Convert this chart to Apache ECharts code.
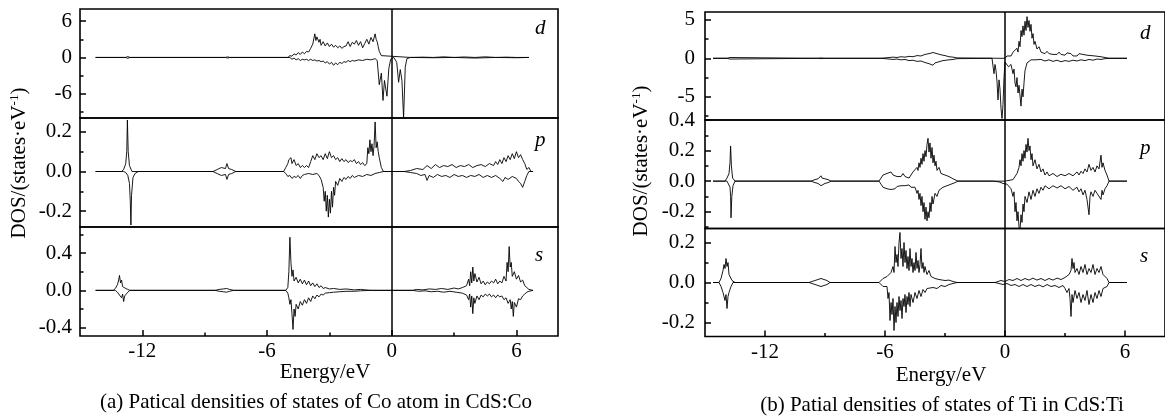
<!DOCTYPE html>
<html><head><meta charset="utf-8">
<script src="https://cdn.jsdelivr.net/npm/echarts@6/dist/echarts.min.js"></script>
<style>html,body{margin:0;padding:0;background:#fff}#c{width:1165px;height:416px}</style>
</head><body><div id="c"></div><script>
// ---------- axis data ----------
const energyRange = [-15, 8];
const energyMajorTicks = [-12, -6, 0, 6];
const energyMinorTicks = [-9, -3, 3];

// ---------- (a) Co in CdS:Co  (flat lists: energy, DOS, energy, DOS, ...) ----------
const coD_up = [-14.25,0, -12.8,0, -12.7,0.15, -12.6,0, -8.0,0, -7.9,0.1, -7.8,0, -5.0,0, -4.9,0.3, -4.8,0.2, -4.7,0.6, -4.6,0.4, -4.5,0.8, -4.4,0.5, -4.3,0.9, -4.2,0.6, -4.1,1.0, -4.0,0.9, -3.9,1.5, -3.8,2.2, -3.7,3.9, -3.65,2.8, -3.6,3.4, -3.5,2.5, -3.45,3.0, -3.4,2.0, -3.3,2.6, -3.2,1.9, -3.1,2.4, -3.0,1.8, -2.9,2.2, -2.8,1.7, -2.7,2.0, -2.6,1.6, -2.5,1.9, -2.4,1.5, -2.3,1.8, -2.2,1.9, -2.1,2.6, -2.0,1.8, -1.9,2.5, -1.8,2.2, -1.7,2.8, -1.6,2.0, -1.5,2.6, -1.4,1.6, -1.3,2.3, -1.2,3.0, -1.1,2.2, -1.0,3.3, -0.9,2.6, -0.8,3.9, -0.75,3.0, -0.7,2.6, -0.65,1.8, -0.6,1.0, -0.5,0.3, -0.45,0, 0.9,0, 1.5,0.05, 2.0,0, 2.5,0.1, 3.0,0, 3.5,0.08, 4.0,0, 4.5,0.1, 5.0,0, 5.5,0.05, 6.0,0, 6.6,0];
const coD_dn = [-14.25,0, -12.8,0, -12.7,-0.15, -12.6,0, -8.0,0, -7.9,-0.1, -7.8,0, -4.9,0, -4.8,-0.3, -4.7,-0.1, -4.6,-0.4, -4.5,-0.2, -4.4,-0.5, -4.3,-0.3, -4.2,-0.4, -4.1,-0.3, -4.0,-0.5, -3.9,-0.3, -3.8,-0.5, -3.7,-0.4, -3.6,-0.6, -3.5,-0.5, -3.4,-0.7, -3.3,-0.6, -3.2,-0.9, -3.1,-0.7, -3.0,-1.1, -2.9,-0.8, -2.8,-1.3, -2.7,-0.9, -2.6,-1.2, -2.5,-0.8, -2.4,-1.0, -2.3,-0.7, -2.2,-0.8, -2.1,-0.5, -2.0,-0.7, -1.9,-0.5, -1.8,-0.6, -1.6,-0.4, -1.4,-0.5, -1.2,-0.3, -1.0,-0.4, -0.8,-0.2, -0.7,-0.5, -0.6,-4.5, -0.5,-2.6, -0.42,-7.1, -0.35,-3.8, -0.23,-6.4, -0.14,-1.8, -0.05,-0.3, 0.1,0, 0.18,-0.3, 0.24,-0.8, 0.33,-4.1, 0.41,-2.0, 0.49,-3.8, 0.57,-10, 0.65,-1.6, 0.73,-0.2, 0.9,0, 2.0,-0.05, 3.0,0, 4.0,-0.1, 5.0,0, 6.0,-0.05, 6.6,0];
const coP_up = [-14.25,0, -13.0,0, -12.9,0.01, -12.8,0.04, -12.75,0.1, -12.72,0.26, -12.68,0.1, -12.62,0.03, -12.5,0, -8.6,0, -8.4,0.01, -8.2,0.02, -8.0,0.015, -7.93,0.04, -7.85,0.015, -7.7,0.01, -7.5,0, -5.2,0, -5.1,0.02, -5.0,0.04, -4.95,0.06, -4.9,0.05, -4.85,0.07, -4.8,0.04, -4.7,0.06, -4.6,0.03, -4.5,0.04, -4.4,0.02, -4.3,0.03, -4.2,0.02, -4.1,0.03, -4.0,0.02, -3.9,0.05, -3.8,0.08, -3.7,0.06, -3.6,0.09, -3.5,0.07, -3.4,0.08, -3.3,0.06, -3.2,0.09, -3.1,0.065, -3.0,0.1, -2.9,0.07, -2.8,0.08, -2.7,0.06, -2.6,0.07, -2.5,0.05, -2.4,0.065, -2.3,0.05, -2.2,0.06, -2.1,0.045, -2.0,0.055, -1.9,0.05, -1.8,0.06, -1.7,0.04, -1.6,0.05, -1.5,0.035, -1.4,0.045, -1.3,0.03, -1.2,0.04, -1.15,0.12, -1.1,0.09, -1.05,0.16, -1.0,0.1, -0.95,0.14, -0.9,0.08, -0.85,0.13, -0.8,0.25, -0.75,0.12, -0.7,0.15, -0.65,0.1, -0.6,0.07, -0.5,0.02, -0.4,0, 0.6,0, 0.9,0.005, 1.2,0.015, 1.5,0.01, 1.7,0.03, 1.9,0.015, 2.1,0.035, 2.3,0.02, 2.5,0.03, 2.7,0.025, 2.9,0.035, 3.1,0.02, 3.3,0.03, 3.5,0.025, 3.7,0.035, 3.9,0.02, 4.1,0.03, 4.3,0.035, 4.5,0.025, 4.7,0.04, 4.9,0.03, 5.0,0.05, 5.1,0.035, 5.2,0.06, 5.3,0.04, 5.4,0.07, 5.5,0.05, 5.6,0.08, 5.7,0.06, 5.8,0.09, 5.9,0.065, 6.0,0.1, 6.1,0.07, 6.2,0.085, 6.3,0.06, 6.4,0.04, 6.5,0.01, 6.6,0.02, 6.7,0, 6.8,0];
const coP_dn = [-14.25,0, -12.9,0, -12.8,-0.005, -12.7,-0.02, -12.62,-0.06, -12.58,-0.15, -12.55,-0.27, -12.52,-0.12, -12.45,-0.03, -12.35,-0.01, -12.2,0, -8.6,0, -8.4,-0.01, -8.2,-0.02, -8.0,-0.015, -7.93,-0.04, -7.85,-0.015, -7.7,-0.01, -7.5,0, -5.2,0, -5.1,-0.01, -5.0,-0.025, -4.9,-0.02, -4.8,-0.035, -4.7,-0.025, -4.6,-0.03, -4.5,-0.02, -4.4,-0.035, -4.3,-0.02, -4.2,-0.015, -4.0,-0.01, -3.8,-0.015, -3.6,-0.01, -3.5,-0.02, -3.4,-0.04, -3.3,-0.08, -3.25,-0.15, -3.2,-0.1, -3.15,-0.2, -3.1,-0.12, -3.05,-0.23, -3.0,-0.14, -2.95,-0.21, -2.9,-0.1, -2.85,-0.18, -2.8,-0.08, -2.75,-0.12, -2.7,-0.05, -2.6,-0.07, -2.5,-0.035, -2.4,-0.05, -2.3,-0.03, -2.2,-0.04, -2.1,-0.025, -2.0,-0.035, -1.9,-0.02, -1.8,-0.03, -1.6,-0.02, -1.4,-0.025, -1.2,-0.015, -1.0,-0.02, -0.8,-0.01, -0.6,-0.005, -0.4,0, 0.6,0, 0.9,-0.005, 1.2,-0.01, 1.4,-0.02, 1.6,-0.015, 1.7,-0.045, 1.8,-0.02, 2.0,-0.03, 2.2,-0.015, 2.4,-0.025, 2.6,-0.02, 2.8,-0.03, 3.0,-0.015, 3.2,-0.025, 3.4,-0.02, 3.6,-0.03, 3.8,-0.02, 4.0,-0.025, 4.2,-0.015, 4.4,-0.03, 4.6,-0.02, 4.8,-0.03, 5.0,-0.02, 5.2,-0.035, 5.35,-0.05, 5.45,-0.03, 5.6,-0.04, 5.8,-0.025, 6.0,-0.035, 6.1,-0.05, 6.2,-0.06, 6.3,-0.08, 6.4,-0.05, 6.5,-0.02, 6.6,0, 6.8,0];
const coS_up = [-14.25,0, -13.4,0, -13.3,0.02, -13.2,0.06, -13.15,0.1, -13.1,0.16, -13.05,0.08, -13.0,0.11, -12.95,0.04, -12.9,0.06, -12.8,0.02, -12.7,0.01, -12.6,0, -8.5,0, -8.3,0.01, -8.1,0.015, -7.95,0.02, -7.8,0.01, -7.6,0, -5.1,0, -5.0,0.03, -4.95,0.2, -4.9,0.57, -4.85,0.3, -4.8,0.15, -4.75,0.22, -4.7,0.1, -4.6,0.14, -4.5,0.08, -4.4,0.12, -4.3,0.07, -4.2,0.11, -4.1,0.06, -4.0,0.1, -3.9,0.05, -3.8,0.08, -3.7,0.04, -3.6,0.07, -3.5,0.03, -3.4,0.05, -3.3,0.02, -3.2,0.03, -3.0,0.015, -2.8,0.02, -2.5,0.01, -2.2,0.015, -1.8,0.005, -1.5,0.01, -1.0,0, 1.0,0, 1.2,0.01, 1.5,0.005, 1.8,0.015, 2.1,0.01, 2.4,0.02, 2.7,0.01, 3.0,0.025, 3.2,0.015, 3.4,0.03, 3.6,0.05, 3.7,0.12, 3.75,0.05, 3.8,0.2, 3.85,0.08, 3.9,0.25, 3.95,0.1, 4.0,0.18, 4.1,0.09, 4.2,0.14, 4.3,0.07, 4.4,0.1, 4.5,0.06, 4.6,0.09, 4.7,0.07, 4.8,0.1, 4.9,0.08, 5.0,0.12, 5.1,0.07, 5.2,0.1, 5.3,0.08, 5.4,0.15, 5.5,0.1, 5.55,0.3, 5.6,0.2, 5.65,0.47, 5.7,0.25, 5.75,0.3, 5.8,0.15, 5.9,0.2, 6.0,0.12, 6.1,0.16, 6.2,0.09, 6.3,0.11, 6.4,0.05, 6.5,0.03, 6.6,0.01, 6.8,0];
const coS_dn = [-14.25,0, -13.3,0, -13.2,-0.02, -13.1,-0.05, -13.0,-0.08, -12.95,-0.04, -12.9,-0.12, -12.85,-0.06, -12.8,-0.08, -12.7,-0.02, -12.6,0, -8.5,0, -8.3,-0.01, -8.1,-0.015, -7.95,-0.02, -7.8,-0.01, -7.6,0, -5.1,0, -5.0,-0.03, -4.95,-0.08, -4.9,-0.15, -4.85,-0.1, -4.8,-0.25, -4.75,-0.42, -4.7,-0.2, -4.65,-0.28, -4.6,-0.15, -4.5,-0.2, -4.4,-0.12, -4.3,-0.16, -4.2,-0.1, -4.1,-0.14, -4.0,-0.08, -3.9,-0.12, -3.8,-0.06, -3.7,-0.09, -3.6,-0.05, -3.5,-0.07, -3.4,-0.04, -3.3,-0.05, -3.2,-0.03, -3.0,-0.025, -2.8,-0.02, -2.5,-0.015, -2.2,-0.01, -1.8,-0.01, -1.5,-0.005, -1.0,0, 1.0,0, 1.3,-0.01, 1.6,-0.005, 1.9,-0.015, 2.2,-0.01, 2.5,-0.02, 2.8,-0.01, 3.1,-0.02, 3.4,-0.03, 3.6,-0.05, 3.7,-0.1, 3.75,-0.04, 3.8,-0.18, 3.85,-0.06, 3.9,-0.25, 3.95,-0.08, 4.0,-0.14, 4.1,-0.06, 4.2,-0.1, 4.3,-0.05, 4.4,-0.07, 4.5,-0.04, 4.6,-0.06, 4.7,-0.04, 4.8,-0.07, 4.9,-0.05, 5.0,-0.08, 5.1,-0.05, 5.2,-0.07, 5.3,-0.06, 5.4,-0.1, 5.5,-0.08, 5.6,-0.14, 5.7,-0.1, 5.75,-0.2, 5.8,-0.12, 5.85,-0.28, 5.9,-0.13, 6.0,-0.18, 6.1,-0.09, 6.2,-0.1, 6.3,-0.06, 6.4,-0.04, 6.5,-0.02, 6.6,-0.01, 6.8,0];

// ---------- (b) Ti in CdS:Ti ----------
const tiD_up = [-14.6,0, -13.9,0, -13.85,0.15, -13.8,0.25, -13.75,0.1, -13.7,0, -9.4,0, -9.2,0.05, -9.0,0, -6.2,0, -6.0,0.05, -5.8,0.1, -5.6,0.15, -5.4,0.1, -5.2,0.2, -5.0,0.15, -4.8,0.25, -4.6,0.2, -4.4,0.35, -4.2,0.3, -4.0,0.5, -3.9,0.4, -3.8,0.6, -3.7,0.5, -3.6,0.75, -3.5,0.5, -3.4,0.6, -3.3,0.4, -3.2,0.45, -3.1,0.3, -3.0,0.35, -2.8,0.2, -2.6,0.15, -2.4,0.05, -2.3,0, -0.3,0, -0.2,0.1, 0,0, 0.1,0.3, 0.2,0.5, 0.3,0.3, 0.4,0.8, 0.5,0.6, 0.6,1.3, 0.65,0.8, 0.7,2.2, 0.75,1.5, 0.8,3.6, 0.85,2.8, 0.9,4.2, 0.95,3.0, 1.0,4.8, 1.05,3.6, 1.1,5.4, 1.15,4.0, 1.2,4.9, 1.25,3.5, 1.3,4.4, 1.35,2.6, 1.4,3.2, 1.45,1.8, 1.5,2.2, 1.6,1.2, 1.7,1.5, 1.8,0.8, 1.9,1.0, 2.0,0.6, 2.1,0.9, 2.2,0.6, 2.3,0.8, 2.4,0.5, 2.5,0.7, 2.6,0.5, 2.7,0.8, 2.8,0.5, 2.9,0.6, 3.0,0.4, 3.1,0.7, 3.2,0.5, 3.3,0.6, 3.4,0.3, 3.5,0.5, 3.6,0.3, 3.7,0.6, 3.8,0.4, 3.9,0.5, 4.0,0.3, 4.1,0.4, 4.2,0.25, 4.3,0.35, 4.4,0.2, 4.5,0.3, 4.6,0.15, 4.8,0.2, 5.0,0.1, 5.2,0, 6.1,0];
const tiD_dn = [-14.6,0, -13.9,0, -13.85,-0.15, -13.8,-0.2, -13.75,-0.1, -13.7,0, -9.4,0, -9.2,-0.05, -9.0,0, -6.2,0, -6.0,-0.05, -5.8,-0.1, -5.6,-0.15, -5.4,-0.1, -5.2,-0.2, -5.0,-0.15, -4.8,-0.3, -4.6,-0.25, -4.4,-0.4, -4.2,-0.35, -4.0,-0.55, -3.9,-0.45, -3.8,-0.7, -3.7,-0.6, -3.6,-0.9, -3.5,-0.6, -3.4,-0.7, -3.3,-0.45, -3.2,-0.5, -3.1,-0.3, -3.0,-0.35, -2.8,-0.2, -2.6,-0.15, -2.4,-0.05, -2.3,0, -0.65,0, -0.6,-1.0, -0.55,-2.0, -0.5,-0.8, -0.45,-1.6, -0.4,-3.0, -0.35,-5.4, -0.3,-2.8, -0.25,-4.0, -0.2,-6.5, -0.15,-7.8, -0.1,-6.0, -0.05,-2.5, 0,-0.5, 0.1,-0.6, 0.18,-1.1, 0.3,-0.8, 0.4,-2.0, 0.45,-1.4, 0.5,-3.2, 0.55,-3.7, 0.6,-2.5, 0.65,-4.5, 0.7,-3.5, 0.8,-6.2, 0.85,-4.0, 0.9,-5.0, 0.95,-3.2, 1.0,-1.6, 1.05,-1.1, 1.1,-0.6, 1.2,-0.5, 1.3,-0.2, 1.4,-0.4, 1.5,-0.2, 1.6,-0.3, 1.8,-0.15, 2.0,-0.35, 2.2,-0.2, 2.4,-0.4, 2.6,-0.25, 2.8,-0.45, 3.0,-0.3, 3.2,-0.4, 3.4,-0.25, 3.6,-0.35, 3.8,-0.2, 4.0,-0.3, 4.2,-0.15, 4.4,-0.25, 4.6,-0.1, 4.8,-0.15, 5.0,-0.05, 5.2,0, 6.1,0];
const tiP_up = [-14.6,0, -14.0,0, -13.95,0.01, -13.9,0.02, -13.85,0.01, -13.8,0.05, -13.75,0.12, -13.72,0.23, -13.68,0.1, -13.62,0.02, -13.5,0, -9.7,0, -9.5,0.01, -9.35,0.015, -9.25,0.02, -9.2,0.035, -9.15,0.02, -9.0,0.015, -8.85,0.01, -8.7,0, -6.3,0, -6.2,0.02, -6.1,0.04, -6.0,0.03, -5.9,0.05, -5.8,0.04, -5.7,0.06, -5.6,0.04, -5.5,0.05, -5.4,0.03, -5.3,0.04, -5.2,0.03, -5.1,0.05, -5.0,0.03, -4.9,0.04, -4.8,0.02, -4.7,0.04, -4.6,0.06, -4.5,0.05, -4.4,0.09, -4.35,0.07, -4.3,0.12, -4.25,0.09, -4.2,0.15, -4.15,0.11, -4.1,0.18, -4.05,0.13, -4.0,0.2, -3.95,0.16, -3.9,0.24, -3.85,0.28, -3.8,0.19, -3.75,0.25, -3.7,0.15, -3.65,0.22, -3.6,0.12, -3.55,0.17, -3.5,0.1, -3.45,0.13, -3.4,0.07, -3.3,0.09, -3.2,0.05, -3.1,0.06, -3.0,0.04, -2.9,0.045, -2.8,0.03, -2.7,0.025, -2.6,0.015, -2.5,0.01, -2.35,0, -0.3,0, -0.2,0.005, 0,0, 0.2,0.005, 0.4,0.01, 0.5,0.02, 0.6,0.05, 0.7,0.09, 0.75,0.14, 0.8,0.1, 0.85,0.18, 0.9,0.13, 0.95,0.2, 1.0,0.15, 1.05,0.24, 1.1,0.19, 1.15,0.28, 1.2,0.2, 1.25,0.23, 1.3,0.14, 1.35,0.18, 1.4,0.1, 1.5,0.14, 1.6,0.08, 1.7,0.11, 1.8,0.06, 1.9,0.08, 2.0,0.04, 2.1,0.06, 2.2,0.035, 2.4,0.05, 2.6,0.03, 2.8,0.045, 3.0,0.035, 3.2,0.05, 3.4,0.035, 3.6,0.06, 3.7,0.04, 3.8,0.065, 3.9,0.05, 4.0,0.08, 4.1,0.06, 4.2,0.11, 4.3,0.07, 4.4,0.09, 4.5,0.06, 4.6,0.1, 4.7,0.08, 4.8,0.17, 4.85,0.09, 4.9,0.12, 5.0,0.07, 5.1,0.04, 5.2,0, 6.1,0];
const tiP_dn = [-14.6,0, -13.9,0, -13.8,-0.01, -13.75,-0.04, -13.72,-0.1, -13.7,-0.24, -13.66,-0.1, -13.6,-0.03, -13.5,0, -9.7,0, -9.5,-0.01, -9.35,-0.015, -9.25,-0.02, -9.2,-0.03, -9.15,-0.02, -9.0,-0.015, -8.85,-0.01, -8.7,0, -6.3,0, -6.2,-0.02, -6.1,-0.04, -6.0,-0.035, -5.9,-0.05, -5.8,-0.04, -5.7,-0.055, -5.6,-0.045, -5.5,-0.05, -5.4,-0.035, -5.3,-0.045, -5.2,-0.03, -5.1,-0.04, -5.0,-0.03, -4.9,-0.035, -4.8,-0.025, -4.7,-0.04, -4.6,-0.05, -4.5,-0.04, -4.4,-0.08, -4.35,-0.06, -4.3,-0.12, -4.25,-0.08, -4.2,-0.16, -4.15,-0.1, -4.1,-0.2, -4.05,-0.14, -4.0,-0.25, -3.95,-0.17, -3.9,-0.26, -3.85,-0.2, -3.8,-0.24, -3.75,-0.14, -3.7,-0.2, -3.65,-0.1, -3.6,-0.15, -3.5,-0.08, -3.4,-0.1, -3.3,-0.06, -3.2,-0.07, -3.1,-0.04, -3.0,-0.05, -2.9,-0.03, -2.8,-0.035, -2.7,-0.02, -2.6,-0.015, -2.5,-0.01, -2.35,0, -0.6,0, -0.5,-0.01, -0.3,-0.005, -0.1,-0.015, 0,-0.01, 0.1,-0.02, 0.2,-0.03, 0.3,-0.05, 0.4,-0.1, 0.45,-0.07, 0.5,-0.2, 0.55,-0.14, 0.6,-0.26, 0.65,-0.2, 0.7,-0.3, 0.75,-0.32, 0.8,-0.22, 0.85,-0.27, 0.9,-0.15, 0.95,-0.2, 1.0,-0.1, 1.1,-0.14, 1.2,-0.07, 1.3,-0.12, 1.4,-0.06, 1.5,-0.1, 1.6,-0.05, 1.7,-0.08, 1.8,-0.04, 1.9,-0.06, 2.0,-0.03, 2.2,-0.05, 2.4,-0.03, 2.6,-0.045, 2.8,-0.03, 3.0,-0.05, 3.2,-0.035, 3.4,-0.06, 3.6,-0.04, 3.7,-0.07, 3.8,-0.05, 3.9,-0.09, 4.0,-0.06, 4.1,-0.12, 4.2,-0.22, 4.25,-0.1, 4.3,-0.07, 4.4,-0.1, 4.5,-0.06, 4.6,-0.08, 4.7,-0.07, 4.8,-0.12, 4.85,-0.06, 4.9,-0.09, 5.0,-0.05, 5.1,-0.03, 5.2,0, 6.1,0];
const tiS_up = [-14.6,0, -14.3,0, -14.2,0.02, -14.1,0.06, -14.05,0.09, -14.0,0.07, -13.95,0.12, -13.9,0.08, -13.85,0.1, -13.8,0.04, -13.75,0.03, -13.65,0.01, -13.5,0, -9.8,0, -9.7,0.005, -9.5,0.01, -9.35,0.015, -9.2,0.02, -9.05,0.015, -8.9,0.01, -8.75,0, -6.3,0, -6.2,0.01, -6.1,0.02, -6.0,0.015, -5.9,0.03, -5.8,0.02, -5.7,0.05, -5.6,0.08, -5.55,0.05, -5.5,0.18, -5.45,0.1, -5.4,0.14, -5.35,0.08, -5.3,0.2, -5.25,0.25, -5.2,0.12, -5.15,0.17, -5.1,0.08, -5.05,0.2, -5.0,0.1, -4.95,0.16, -4.9,0.07, -4.85,0.13, -4.8,0.06, -4.75,0.17, -4.7,0.08, -4.65,0.12, -4.6,0.05, -4.55,0.1, -4.5,0.06, -4.45,0.15, -4.4,0.07, -4.35,0.11, -4.3,0.05, -4.25,0.09, -4.2,0.17, -4.15,0.07, -4.1,0.1, -4.05,0.05, -4.0,0.08, -3.9,0.04, -3.8,0.06, -3.7,0.03, -3.6,0.04, -3.5,0.02, -3.4,0.03, -3.3,0.015, -3.2,0.02, -3.0,0.01, -2.8,0.012, -2.6,0.005, -2.4,0, -0.5,0, -0.4,0.005, -0.2,0.01, 0,0.005, 0.2,0.015, 0.4,0.01, 0.6,0.02, 0.8,0.01, 1.0,0.02, 1.2,0.012, 1.4,0.022, 1.6,0.012, 1.8,0.02, 2.0,0.01, 2.2,0.02, 2.4,0.012, 2.6,0.022, 2.8,0.015, 3.0,0.025, 3.1,0.02, 3.2,0.04, 3.3,0.06, 3.35,0.12, 3.4,0.07, 3.45,0.1, 3.5,0.05, 3.6,0.07, 3.7,0.04, 3.8,0.08, 3.9,0.05, 4.0,0.09, 4.1,0.04, 4.2,0.07, 4.3,0.05, 4.4,0.09, 4.5,0.04, 4.6,0.07, 4.7,0.05, 4.8,0.08, 4.9,0.04, 5.0,0.05, 5.1,0.02, 5.2,0, 6.1,0];
const tiS_dn = [-14.6,0, -14.3,0, -14.2,-0.02, -14.1,-0.05, -14.0,-0.09, -13.95,-0.06, -13.9,-0.13, -13.85,-0.07, -13.8,-0.05, -13.7,-0.02, -13.6,0, -9.8,0, -9.7,-0.005, -9.5,-0.01, -9.35,-0.015, -9.2,-0.02, -9.05,-0.015, -8.9,-0.01, -8.75,0, -6.3,0, -6.2,-0.01, -6.1,-0.02, -6.0,-0.03, -5.9,-0.02, -5.85,-0.08, -5.8,-0.05, -5.75,-0.19, -5.7,-0.1, -5.65,-0.16, -5.6,-0.08, -5.55,-0.24, -5.5,-0.12, -5.45,-0.2, -5.4,-0.1, -5.35,-0.17, -5.3,-0.07, -5.25,-0.14, -5.2,-0.09, -5.15,-0.18, -5.1,-0.08, -5.05,-0.12, -5.0,-0.06, -4.95,-0.15, -4.9,-0.07, -4.85,-0.11, -4.8,-0.05, -4.75,-0.12, -4.7,-0.06, -4.6,-0.1, -4.5,-0.05, -4.4,-0.08, -4.3,-0.04, -4.2,-0.07, -4.1,-0.035, -4.0,-0.05, -3.9,-0.03, -3.8,-0.04, -3.6,-0.025, -3.4,-0.03, -3.2,-0.015, -3.0,-0.02, -2.8,-0.01, -2.6,-0.005, -2.4,0, -0.5,0, -0.3,-0.005, -0.1,-0.01, 0.1,-0.005, 0.3,-0.015, 0.5,-0.01, 0.7,-0.02, 0.9,-0.01, 1.1,-0.02, 1.3,-0.01, 1.5,-0.02, 1.7,-0.012, 1.9,-0.022, 2.1,-0.01, 2.3,-0.02, 2.5,-0.015, 2.7,-0.025, 2.9,-0.015, 3.0,-0.03, 3.1,-0.05, 3.2,-0.03, 3.25,-0.08, 3.3,-0.17, 3.35,-0.06, 3.4,-0.1, 3.5,-0.04, 3.6,-0.08, 3.7,-0.05, 3.8,-0.1, 3.9,-0.06, 4.0,-0.09, 4.1,-0.04, 4.2,-0.11, 4.3,-0.06, 4.4,-0.1, 4.5,-0.05, 4.6,-0.08, 4.7,-0.04, 4.8,-0.07, 4.9,-0.03, 5.0,-0.04, 5.1,-0.02, 5.2,0, 6.1,0];

// ---------- y tick labels / ranges ----------
const coD_ticks = [-6, 0, 6],  coD_minor = [-9, -3, 3],  coD_range = [-10, 8];
const coP_ticks = [-0.2, 0, 0.2], coP_minor = [-0.1, 0.1], coP_range = [-0.28, 0.27];
const coS_ticks = [-0.4, 0, 0.4], coS_minor = [-0.2, 0.2, 0.6], coS_range = [-0.49, 0.68];
const tiD_ticks = [-5, 0, 5],  tiD_minor = [-7.5, -2.5, 2.5], tiD_range = [-8, 6];
const tiP_ticks = [-0.2, 0, 0.2, 0.4], tiP_minor = [-0.3, -0.1, 0.1, 0.3], tiP_range = [-0.31, 0.4];
const tiS_ticks = [-0.2, 0, 0.2], tiS_minor = [-0.1, 0.1], tiS_range = [-0.27, 0.27];

const orbitalNames = ['d', 'p', 's'];
const yTitle = 'DOS/(states·eV';
const xTitle = 'Energy/eV';
const captionA = '(a) Patical densities of states of Co atom in CdS:Co';
const captionB = '(b) Patial densities of states of Ti in CdS:Ti';

// ---------- layout ----------
const FONT = '"Liberation Serif", "Times New Roman", serif';
const FS = 21;
const panels = [
  { left: 80, width: 478, tops: [9, 118, 227], heights: [109, 109, 109], labelX: 543, labelY: [30, 142, 257], yMargin: 8,
    subs: [
      { up: coD_up, dn: coD_dn, ticks: coD_ticks, minor: coD_minor, range: coD_range, dec: 0 },
      { up: coP_up, dn: coP_dn, ticks: coP_ticks, minor: coP_minor, range: coP_range, dec: 1 },
      { up: coS_up, dn: coS_dn, ticks: coS_ticks, minor: coS_minor, range: coS_range, dec: 1 } ] },
  { left: 705, width: 467, tops: [12, 120, 228.5], heights: [108, 108.5, 108], labelX: 1148, labelY: [35, 150, 258], yMargin: 10,
    subs: [
      { up: tiD_up, dn: tiD_dn, ticks: tiD_ticks, minor: tiD_minor, range: tiD_range, dec: 0 },
      { up: tiP_up, dn: tiP_dn, ticks: tiP_ticks, minor: tiP_minor, range: tiP_range, dec: 1 },
      { up: tiS_up, dn: tiS_dn, ticks: tiS_ticks, minor: tiS_minor, range: tiS_range, dec: 1 } ] }
];

function pairs(flat) { const o = []; for (let i = 0; i < flat.length; i += 2) o.push([flat[i], flat[i + 1]]); return o; }

const noLine = { show: false, onZero: false };
const grid = [], xAxis = [], yAxis = [], series = [], graphic = [];
panels.forEach((p, pi) => {
  p.subs.forEach((s, si) => {
    const gi = grid.length;
    const isBottom = si === 2;
    grid.push({ left: p.left, width: p.width, top: p.tops[si], height: p.heights[si], show: true,
      borderColor: '#000', borderWidth: 1.6, backgroundColor: 'transparent', containLabel: false });
    const xi = xAxis.length;
    xAxis.push({ type: 'value', gridIndex: gi, min: energyRange[0], max: energyRange[1], position: 'bottom',
      axisLine: noLine, splitLine: { show: false },
      axisTick: { show: isBottom, inside: true, length: 6, customValues: energyMajorTicks, lineStyle: { color: '#000', width: 1.5 } },
      axisLabel: { show: isBottom, customValues: energyMajorTicks, margin: 5, color: '#000', fontFamily: FONT, fontSize: FS,
        formatter: v => String(Math.round(v)) } });
    if (isBottom) {
      xAxis.push({ type: 'value', gridIndex: gi, min: energyRange[0], max: energyRange[1], position: 'bottom',
        axisLine: noLine, splitLine: { show: false },
        axisTick: { show: true, inside: true, length: 3.5, customValues: energyMinorTicks, lineStyle: { color: '#000', width: 1.5 } },
        axisLabel: { show: false } });
    }
    const yi = yAxis.length;
    yAxis.push({ type: 'value', gridIndex: gi, min: s.range[0], max: s.range[1], position: 'left',
      axisLine: noLine, splitLine: { show: false },
      axisTick: { show: true, inside: true, length: 6, customValues: s.ticks, lineStyle: { color: '#000', width: 1.5 } },
      axisLabel: { show: true, customValues: s.ticks, margin: p.yMargin, color: '#000', fontFamily: FONT, fontSize: FS,
        showMinLabel: true, showMaxLabel: true,
        formatter: v => s.dec ? (Math.abs(v) < 1e-9 ? '0.0' : v.toFixed(1)) : String(Math.round(v)) } });
    yAxis.push({ type: 'value', gridIndex: gi, min: s.range[0], max: s.range[1], position: 'left',
      axisLine: noLine, splitLine: { show: false },
      axisTick: { show: true, inside: true, length: 3.5, customValues: s.minor, lineStyle: { color: '#000', width: 1.5 } },
      axisLabel: { show: false } });
    const lineBase = { type: 'line', xAxisIndex: xi, yAxisIndex: yi, showSymbol: false, symbol: 'none',
      lineStyle: { color: '#000', width: 0.9 }, animation: false, silent: true, clip: true };
    series.push(Object.assign({}, lineBase, { name: orbitalNames[si] + ' up', data: pairs(s.up),
      markLine: { silent: true, symbol: ['none', 'none'], label: { show: false },
        lineStyle: { color: '#000', width: 1.5, type: 'solid' }, data: [{ xAxis: 0 }], animation: false } }));
    series.push(Object.assign({}, lineBase, { name: orbitalNames[si] + ' down', data: pairs(s.dn) }));
    graphic.push({ type: 'text', left: p.labelX - 8, top: p.labelY[si] - 12,
      style: { text: orbitalNames[si], font: 'italic ' + FS + 'px ' + FONT, fill: '#000' } });
  });
});

// axis titles & captions
[[19, 163], [641, 161]].forEach(([x, y]) => {
  graphic.push({ type: 'text', x: x, y: y, rotation: Math.PI / 2,
    style: { text: '{a|' + yTitle + '}{b|-1}{a|)}', fill: '#000', align: 'center', verticalAlign: 'middle',
      rich: { a: { fontFamily: FONT, fontSize: FS, fill: '#000' }, b: { fontFamily: FONT, fontSize: 13, fill: '#000', verticalAlign: 'top', padding: [0, 0, 8, 0] } } } });
});
graphic.push({ type: 'text', x: 325, y: 372, style: { text: xTitle, font: FS + 'px ' + FONT, fill: '#000', align: 'center', verticalAlign: 'middle' } });
graphic.push({ type: 'text', x: 941, y: 375, style: { text: xTitle, font: FS + 'px ' + FONT, fill: '#000', align: 'center', verticalAlign: 'middle' } });
graphic.push({ type: 'text', x: 316, y: 402, style: { text: captionA, font: FS + 'px ' + FONT, fill: '#000', align: 'center', verticalAlign: 'middle' } });
graphic.push({ type: 'text', x: 942, y: 405, style: { text: captionB, font: FS + 'px ' + FONT, fill: '#000', align: 'center', verticalAlign: 'middle' } });

const chart = echarts.init(document.getElementById('c'), null, { renderer: 'canvas' });
chart.setOption({ backgroundColor: '#fff', animation: false, grid, xAxis, yAxis, series, graphic });
</script></body></html>
